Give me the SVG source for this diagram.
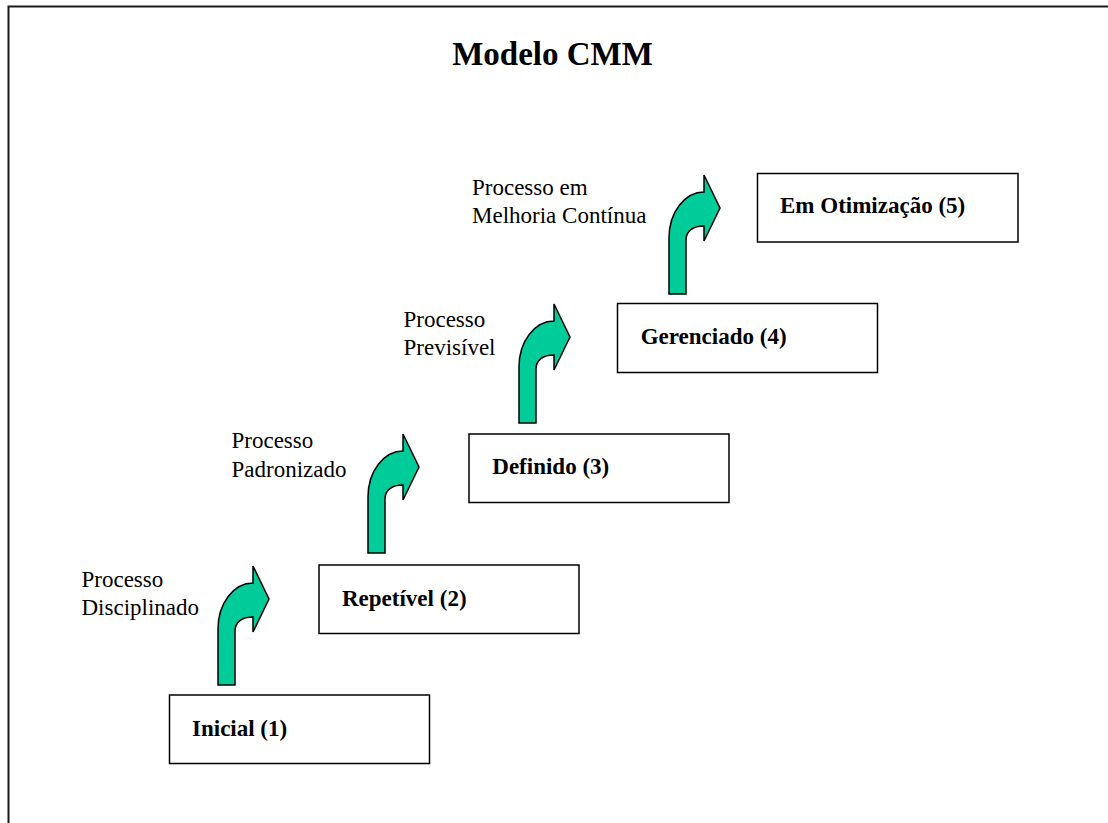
<svg xmlns="http://www.w3.org/2000/svg" width="1108" height="823" viewBox="0 0 1108 823">
<defs>
<style>
.frame{fill:none;stroke:#1a1a1a;stroke-width:2}
.box{fill:#ffffff;stroke:#000000;stroke-width:1.5}
.nt{font-family:"Liberation Serif","Times New Roman",serif;font-weight:bold;font-size:23px;fill:#000}
.lb{font-family:"Liberation Serif","Times New Roman",serif;font-size:23px;fill:#000}
.title{font-family:"Liberation Serif","Times New Roman",serif;font-weight:bold;font-size:33px;fill:#000}
.arr{fill:#00CC99;stroke:#000;stroke-width:1.5;stroke-linejoin:miter}
</style>
<path id="bent" d="M0,0 L0,-56 C0,-82 16,-102 35,-102 L35,-119 L51,-86 L35,-53 L35,-68 C24,-68 17,-63 17,-54 L17,0 Z"/>
</defs>
<rect width="1108" height="823" fill="#ffffff"/>
<rect class="frame" x="8.5" y="6.5" width="1110" height="830"/>
<text class="title" x="552.5" y="65" text-anchor="middle">Modelo CMM</text>

<g id="connectors">
<use href="#bent" class="arr" x="218" y="685"/>
<use href="#bent" class="arr" x="368" y="553"/>
<use href="#bent" class="arr" x="519" y="423"/>
<use href="#bent" class="arr" x="669" y="294"/>
</g>

<g id="labels">
<text class="lb" x="81.5" y="587">Processo</text>
<text class="lb" x="81.5" y="615">Disciplinado</text>
<text class="lb" x="231.5" y="448">Processo</text>
<text class="lb" x="231.5" y="476.5">Padronizado</text>
<text class="lb" x="403.5" y="326.5">Processo</text>
<text class="lb" x="403.5" y="354.5">Previsível</text>
<text class="lb" x="472" y="195">Processo em</text>
<text class="lb" x="472" y="223">Melhoria Contínua</text>
</g>

<g id="node1">
<rect class="box" x="169.5" y="695" width="260" height="68.5"/>
<text class="nt" x="192" y="736">Inicial (1)</text>
</g>
<g id="node2">
<rect class="box" x="319" y="565" width="260" height="68.5"/>
<text class="nt" x="342" y="606">Repetível (2)</text>
</g>
<g id="node3">
<rect class="box" x="469" y="434" width="260" height="68.5"/>
<text class="nt" x="492.3" y="474">Definido (3)</text>
</g>
<g id="node4">
<rect class="box" x="617.5" y="303.5" width="260" height="69"/>
<text class="nt" x="640.7" y="344.3">Gerenciado (4)</text>
</g>
<g id="node5">
<rect class="box" x="757.5" y="173.5" width="260.5" height="68.5"/>
<text class="nt" x="780" y="213">Em Otimização (5)</text>
</g>
</svg>
